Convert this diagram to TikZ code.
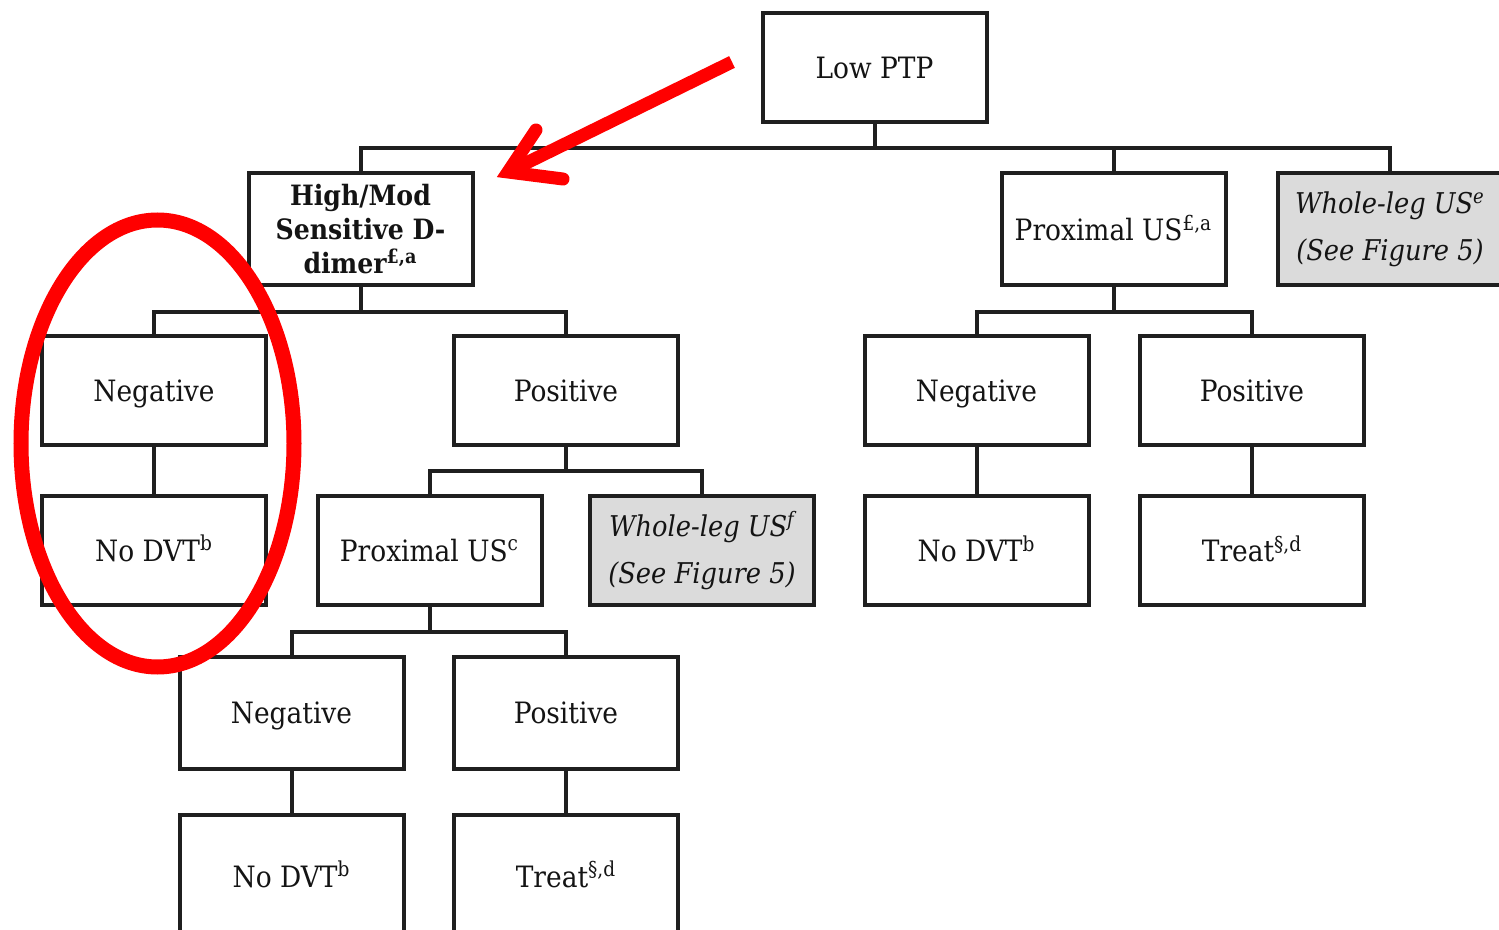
\documentclass[tikz,border=0pt]{standalone}
\usepackage{fontspec}
\IfFontExistsTF{DejaVu Serif Condensed}{\setmainfont{DejaVu Serif Condensed}}{\setmainfont{DejaVu Serif}}
\begin{document}
\begin{tikzpicture}[x=0.5pt,y=-0.5pt,
  box/.style={draw=black!88, line width=2pt, fill=white, text=black!92,
    minimum width=112pt, minimum height=54.5pt, align=center, inner sep=1pt,
    text height=12.5pt, text depth=1.5pt,
    font=\fontsize{14.7}{17}\selectfont},
  multi/.style={text height=, text depth=},
  greybox/.style={box, multi, fill=black!14, font=\fontsize{14.3}{23.5}\selectfont\itshape},
  tallbox/.style={box, minimum height=61pt},
  wire/.style={draw=black!88, line width=2pt},
  redpen/.style={draw=red, line width=6.5pt},
]
\clip (0,0) rectangle (1499,930);
\fill[white] (0,0) rectangle (1499,930);

% top level
\node[box] (low) at (874.5,68) {Low PTP};
\node[box, multi, minimum height=56pt, font=\fontsize{14}{17}\selectfont\bfseries] (hm) at (360.5,229.5)
  {High/Mod\\ Sensitive D-\\ dimer\textsuperscript{£,a}};
\node[box, minimum height=56pt] (pu) at (1113.5,229.5) {Proximal US\textsuperscript{£,a}};
\node[greybox, minimum height=56pt] (wle) at (1390,229.5) {Whole-leg US\textsuperscript{e}\\(See Figure 5)};

% D-dimer branch
\node[box] (negL) at (154,391) {Negative};
\node[box] (posL) at (566,391) {Positive};
\node[box] (noL) at (154,550) {No DVT\textsuperscript{b}};
\node[box] (puc) at (429.5,550) {Proximal US\textsuperscript{c}};
\node[greybox] (wlf) at (702,550.5) {Whole-leg US\textsuperscript{f}\\(See Figure 5)};
\node[box, minimum height=56pt] (neg2) at (291.5,712.5) {Negative};
\node[box, minimum height=56pt] (pos2) at (566,712.5) {Positive};
\node[tallbox] (no2) at (291.5,876) {No DVT\textsuperscript{b}};
\node[tallbox] (tr2) at (566,876) {Treat\textsuperscript{§,d}};

% proximal US branch
\node[box] (negR) at (976.5,391) {Negative};
\node[box] (posR) at (1252,391) {Positive};
\node[box] (noR) at (976.5,550.5) {No DVT\textsuperscript{b}};
\node[box] (trR) at (1252,550.5) {Treat\textsuperscript{§,d}};

% bus junctions
\coordinate (j1) at (874.5,148);
\coordinate (j2) at (360.5,312);
\coordinate (j3) at (566,471);
\coordinate (j4) at (429.5,632);
\coordinate (j5) at (1113.5,312);

\draw[wire] (low.south) -- (j1);
\draw[wire] (hm.north) |- (j1) -| (wle.north);
\draw[wire] (pu.north) -- (pu.north |- j1);

\draw[wire] (hm.south) -- (j2);
\draw[wire] (negL.north) |- (j2) -| (posL.north);
\draw[wire] (negL.south) -- (noL.north);

\draw[wire] (posL.south) -- (j3);
\draw[wire] (puc.north) |- (j3) -| (wlf.north);

\draw[wire] (puc.south) -- (j4);
\draw[wire] (neg2.north) |- (j4) -| (pos2.north);
\draw[wire] (neg2.south) -- (no2.north);
\draw[wire] (pos2.south) -- (tr2.north);

\draw[wire] (pu.south) -- (j5);
\draw[wire] (negR.north) |- (j5) -| (posR.north);
\draw[wire] (negR.south) -- (noR.north);
\draw[wire] (posR.south) -- (trR.north);

% red highlight marks
\coordinate (shaft) at (732,62);
\coordinate (tipv) at (508,172);
\coordinate (barbA) at (536,130);
\coordinate (barbB) at (563,179);
\draw[redpen, line cap=butt] (shaft) -- (tipv);
\draw[redpen, line cap=round, line join=miter] (barbA) -- (tipv) -- (barbB);
\draw[draw=red, line width=7.5pt] (157.5,443.5) ellipse [x radius=68.25pt, y radius=111.75pt];
\end{tikzpicture}
\end{document}
